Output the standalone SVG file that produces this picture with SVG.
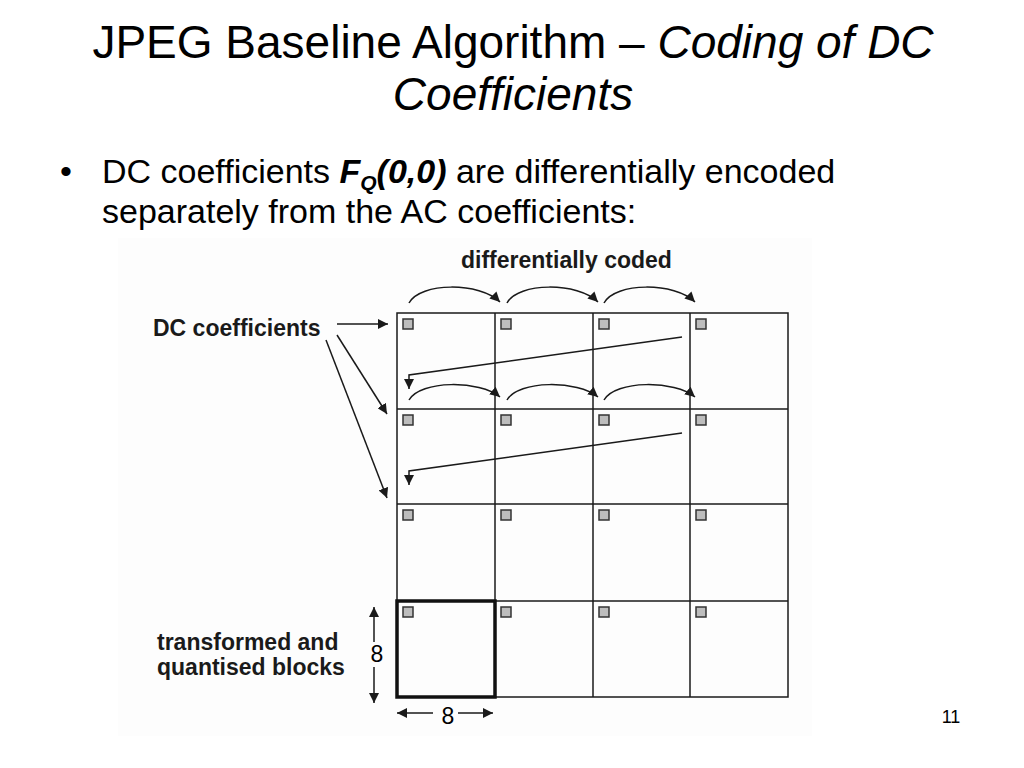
<svg xmlns="http://www.w3.org/2000/svg" width="1024" height="768" viewBox="0 0 1024 768">
<defs>
<style>
.t{font-family:"Liberation Sans",Arial,sans-serif;fill:#000}
.d{font-family:"Liberation Sans",Arial,sans-serif;font-weight:bold;font-size:23px;fill:#1a1a1a}
.g{fill:none;stroke:#1a1a1a;stroke-width:1.5}
.sq{fill:#bdbdbd;stroke:#333;stroke-width:1.5}
.c{fill:none;stroke:#1a1a1a;stroke-width:1.5}
.ca{fill:none;stroke:#1a1a1a;stroke-width:1.5;marker-end:url(#ah)}
</style>
<marker id="ah" markerUnits="userSpaceOnUse" markerWidth="10" markerHeight="10" viewBox="0 0 10 10" refX="10" refY="5" orient="auto">
<path d="M0,0 L10,5 L0,10 z" fill="#1a1a1a"/>
</marker>
<marker id="as" markerUnits="userSpaceOnUse" markerWidth="10" markerHeight="10" viewBox="0 0 10 10" refX="10" refY="5" orient="auto-start-reverse">
<path d="M0,0 L10,5 L0,10 z" fill="#1a1a1a"/>
</marker>
</defs>
<rect width="1024" height="768" fill="#fff"/>
<rect x="118" y="238" width="694" height="498" fill="#fdfdfd"/>

<g id="title">
<text class="t" x="513" y="58" font-size="46" text-anchor="middle">JPEG Baseline Algorithm – <tspan font-style="italic">Coding of DC</tspan></text>
<text class="t" x="513" y="110" font-size="46" text-anchor="middle" font-style="italic">Coefficients</text>
</g>

<g id="bullet">
<text class="t" x="60" y="183" font-size="34">•</text>
<text class="t" x="102" y="183" font-size="34">DC coefficients <tspan font-weight="bold" font-style="italic">F</tspan><tspan font-weight="bold" font-style="italic" font-size="21" dy="7">Q</tspan><tspan font-weight="bold" font-style="italic" dy="-7">(0,0)</tspan> are differentially encoded</text>
<text class="t" x="102" y="223" font-size="34">separately from the AC coefficients:</text>
</g>

<g id="labels">
<text class="d" x="461" y="268">differentially coded</text>
<text class="d" x="153" y="336">DC coefficients</text>
<text class="d" x="157" y="650">transformed and</text>
<text class="d" x="157" y="675">quantised blocks</text>
</g>

<g id="grid">
<rect class="g" x="397" y="313" width="391" height="384"/>
<line class="g" x1="495" y1="313" x2="495" y2="697"/>
<line class="g" x1="593" y1="313" x2="593" y2="697"/>
<line class="g" x1="690" y1="313" x2="690" y2="697"/>
<line class="g" x1="397" y1="409" x2="788" y2="409"/>
<line class="g" x1="397" y1="504" x2="788" y2="504"/>
<line class="g" x1="397" y1="601" x2="788" y2="601"/>
<rect x="397" y="601" width="98" height="96" fill="none" stroke="#111" stroke-width="3.5"/>
</g>

<g id="dc-squares">
<rect class="sq" x="403" y="319" width="10" height="10"/>
<rect class="sq" x="501" y="319" width="10" height="10"/>
<rect class="sq" x="599" y="319" width="10" height="10"/>
<rect class="sq" x="696" y="319" width="10" height="10"/>
<rect class="sq" x="403" y="415" width="10" height="10"/>
<rect class="sq" x="501" y="415" width="10" height="10"/>
<rect class="sq" x="599" y="415" width="10" height="10"/>
<rect class="sq" x="696" y="415" width="10" height="10"/>
<rect class="sq" x="403" y="510" width="10" height="10"/>
<rect class="sq" x="501" y="510" width="10" height="10"/>
<rect class="sq" x="599" y="510" width="10" height="10"/>
<rect class="sq" x="696" y="510" width="10" height="10"/>
<rect class="sq" x="403" y="607" width="10" height="10"/>
<rect class="sq" x="501" y="607" width="10" height="10"/>
<rect class="sq" x="599" y="607" width="10" height="10"/>
<rect class="sq" x="696" y="607" width="10" height="10"/>
</g>

<g id="connectors">
<path class="ca" d="M409,303 C420,282 480,282 500,302"/>
<path class="ca" d="M507,303 C518,282 578,282 598,302"/>
<path class="ca" d="M604,303 C615,282 675,282 695,302"/>
<path class="ca" d="M409,400 C420,380 480,380 500,397"/>
<path class="ca" d="M507,400 C518,380 578,380 598,397"/>
<path class="ca" d="M604,400 C615,380 675,380 695,397"/>
<path class="ca" d="M682,337 L409,375 L409,389"/>
<path class="ca" d="M682,433 L409,471 L409,485"/>
<line class="ca" x1="337" y1="324" x2="388" y2="324"/>
<line class="ca" x1="337" y1="335" x2="387" y2="414"/>
<line class="ca" x1="326" y1="340" x2="387" y2="498"/>
<line class="c" x1="374" y1="607" x2="374" y2="642" marker-start="url(#as)"/>
<line class="c" x1="374" y1="667" x2="374" y2="703" marker-end="url(#ah)"/>
<line class="c" x1="397" y1="713" x2="433" y2="713" marker-start="url(#as)"/>
<line class="c" x1="458" y1="713" x2="493" y2="713" marker-end="url(#ah)"/>
</g>

<g id="dims">
<text class="t" x="377" y="662" font-size="23" text-anchor="middle" fill="#1a1a1a">8</text>
<text class="t" x="448" y="724" font-size="23" text-anchor="middle" fill="#1a1a1a">8</text>
</g>

<text class="t" x="951" y="723" font-size="18" text-anchor="middle">11</text>
</svg>
